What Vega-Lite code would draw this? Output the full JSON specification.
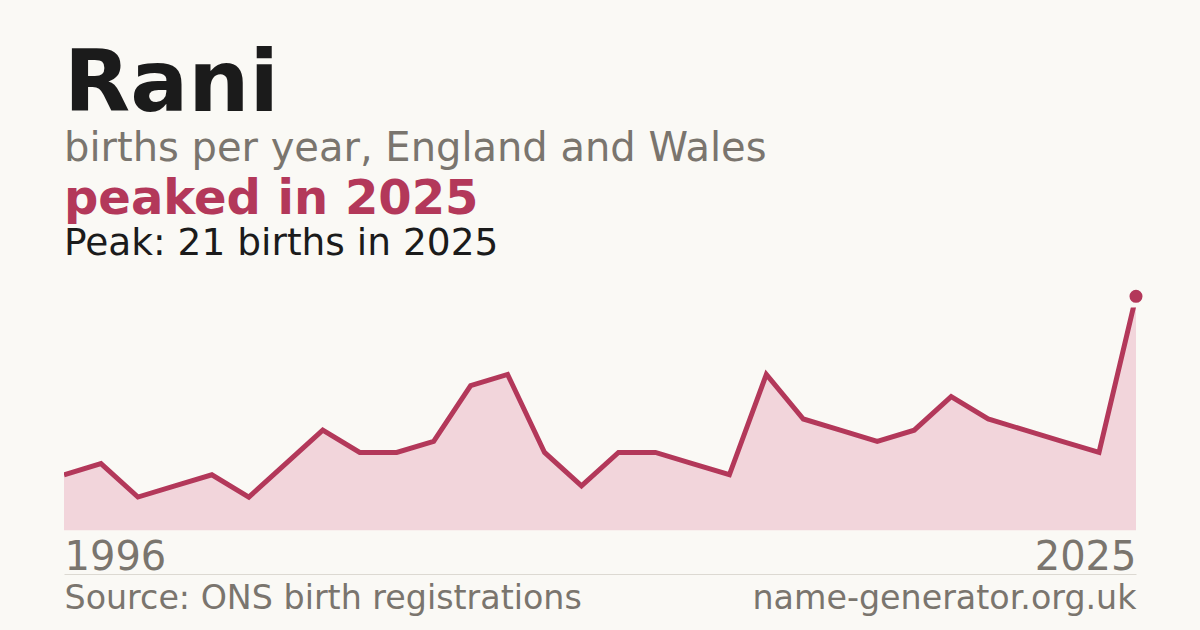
{
  "$schema": "https://vega.github.io/schema/vega-lite/v6.json",
  "background": "#faf9f5",
  "padding": {"left": 64, "top": 41.5, "right": 60, "bottom": 20},
  "title": {
    "text": "Rani",
    "subtitle": "births per year, England and Wales",
    "anchor": "start",
    "frame": "group",
    "fontSize": 86,
    "fontWeight": "bold",
    "color": "#1b1b1b",
    "subtitleFontSize": 40,
    "subtitleColor": "#7a756e",
    "subtitlePadding": 0,
    "offset": 6
  },
  "vconcat": [
    {
      "title": {
        "text": "peaked in 2025",
        "subtitle": "Peak: 21 births in 2025",
        "anchor": "start",
        "frame": "group",
        "fontSize": 48,
        "fontWeight": "bold",
        "color": "#b3385a",
        "subtitleFontSize": 37.5,
        "subtitleColor": "#1b1b1b",
        "subtitlePadding": 1.3,
        "offset": 27
      },
      "width": 1072,
      "height": 223,
      "data": {
        "values": [
          {"year": 1996, "births": 5},
          {"year": 1997, "births": 6},
          {"year": 1998, "births": 3},
          {"year": 1999, "births": 4},
          {"year": 2000, "births": 5},
          {"year": 2001, "births": 3},
          {"year": 2002, "births": 6},
          {"year": 2003, "births": 9},
          {"year": 2004, "births": 7},
          {"year": 2005, "births": 7},
          {"year": 2006, "births": 8},
          {"year": 2007, "births": 13},
          {"year": 2008, "births": 14},
          {"year": 2009, "births": 7},
          {"year": 2010, "births": 4},
          {"year": 2011, "births": 7},
          {"year": 2012, "births": 7},
          {"year": 2013, "births": 6},
          {"year": 2014, "births": 5},
          {"year": 2015, "births": 14},
          {"year": 2016, "births": 10},
          {"year": 2017, "births": 9},
          {"year": 2018, "births": 8},
          {"year": 2019, "births": 9},
          {"year": 2020, "births": 12},
          {"year": 2021, "births": 10},
          {"year": 2022, "births": 9},
          {"year": 2023, "births": 8},
          {"year": 2024, "births": 7},
          {"year": 2025, "births": 21}
        ]
      },
      "encoding": {
        "y": {
          "field": "births",
          "type": "quantitative",
          "scale": {"domain": [0, 20], "nice": false},
          "axis": null
        }
      },
      "layer": [
        {
          "mark": {"type": "area", "color": "#f2d5db", "clip": true},
          "encoding": {
            "x": {
              "field": "year",
              "type": "quantitative",
              "scale": {"domain": [1996, 2025], "nice": false, "zero": false},
              "axis": {
                "orient": "bottom",
                "values": [1996, 2025],
                "format": "d",
                "title": null,
                "domain": false,
                "ticks": false,
                "grid": false,
                "labelFlush": true,
                "labelFontSize": 40,
                "labelColor": "#7a756e",
                "labelPadding": 6.5
              }
            }
          }
        },
        {
          "mark": {"type": "line", "color": "#b3385a", "strokeWidth": 5, "clip": true},
          "encoding": {
            "x": {
              "field": "year",
              "type": "quantitative",
              "axis": {
                "orient": "bottom",
                "offset": 43.5,
                "values": [1996, 2025],
                "labelExpr": "datum.value == 1996 ? 'Source: ONS birth registrations' : 'name-generator.org.uk'",
                "title": null,
                "domain": true,
                "domainColor": "#dcd9d2",
                "domainWidth": 1,
                "ticks": false,
                "grid": false,
                "labelFlush": true,
                "labelLimit": 700,
                "labelFontSize": 33.3,
                "labelColor": "#7a756e",
                "labelPadding": 8
              }
            }
          }
        },
        {
          "transform": [{"filter": "datum.year == 2025"}],
          "mark": {"type": "point", "filled": true, "opacity": 1, "size": 170, "color": "#b3385a"},
          "encoding": {
            "x": {"field": "year", "type": "quantitative", "axis": null}
          }
        }
      ],
      "resolve": {"axis": {"x": "independent"}}
    }
  ],
  "config": {
    "font": "DejaVu Sans",
    "view": {"stroke": null}
  }
}
